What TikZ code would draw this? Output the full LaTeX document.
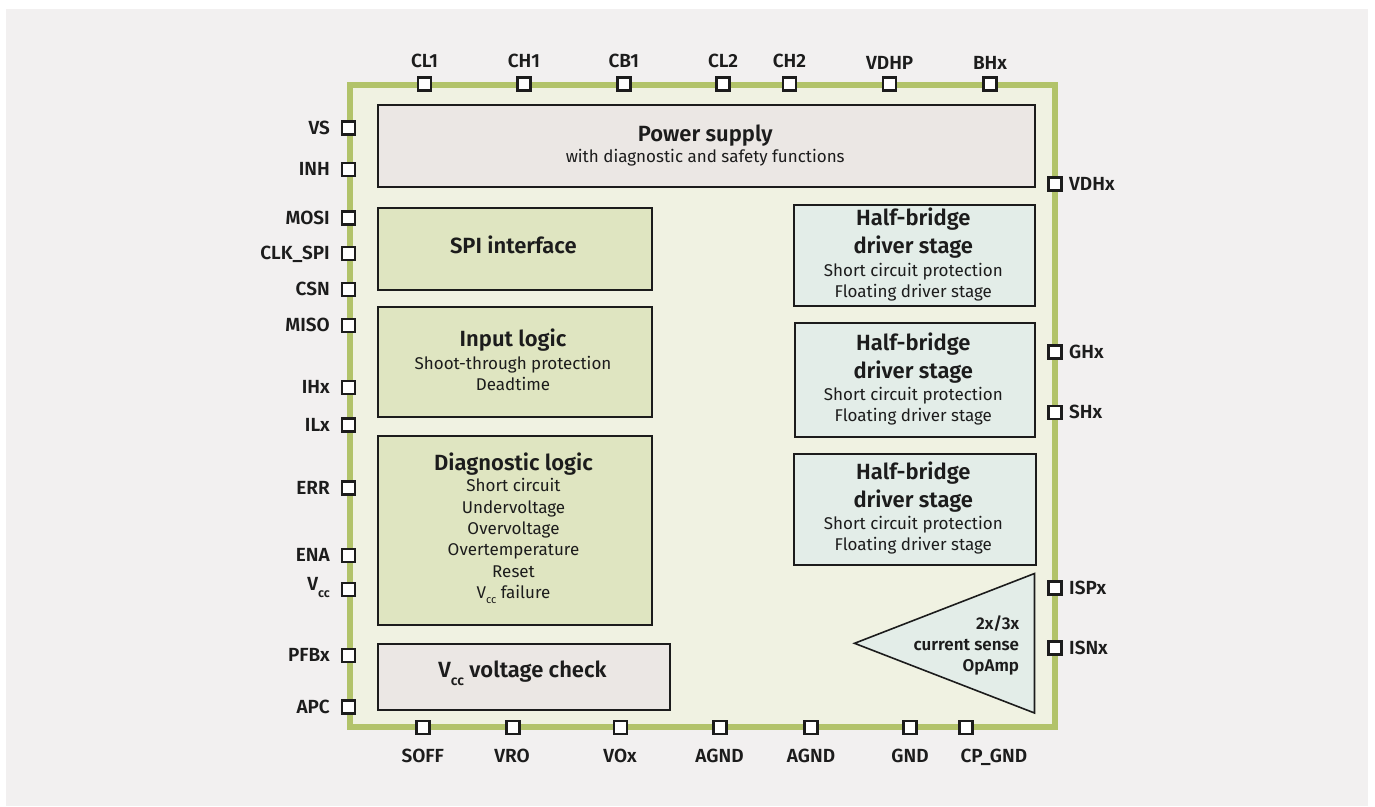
\documentclass[tikz,border=0pt]{standalone}
\usepackage{fontspec}
\setmainfont{Fira Sans}[BoldFont={Fira Sans SemiBold}]
\definecolor{bgc}{HTML}{F2F0F0}
\definecolor{chipc}{HTML}{F0F2E2}
\definecolor{framec}{HTML}{B2C36A}
\definecolor{psc}{HTML}{EBE7E4}
\definecolor{logc}{HTML}{DFE5C1}
\definecolor{hbc}{HTML}{E3EDE8}
\definecolor{txtc}{HTML}{1C1C1C}
\newcommand\fsz[1]{\fontsize{#1}{#1}\selectfont}
\newcommand\vsub[2]{V\raisebox{-#2}{\fsz{#1}cc}}
\tikzset{
  pinsq/.style={draw=txtc, fill=white, line width=2.4pt, minimum size=13pt, inner sep=0pt, outer sep=0pt},
  pinlbl/.style={font=\fsz{19}\bfseries, text=txtc, inner sep=0pt, anchor=base},
  lpin/.style={pinlbl, anchor=base east},
  rpin/.style={pinlbl, anchor=base west},
  blkbox/.style={draw=txtc, line width=2pt, inner sep=0pt, anchor=north west},
  ttl/.style={font=\fsz{22}\bfseries, text=txtc, inner sep=0pt, anchor=base},
  sub/.style={font=\fsz{17}, text=txtc, inner sep=0pt, anchor=base},
  tril/.style={font=\fsz{17}\bfseries, text=txtc, inner sep=0pt, anchor=base east}
}
\begin{document}
\begin{tikzpicture}[x=1pt,y=-1pt]
\useasboundingbox (0,0) rectangle (1375,806);
\fill[white] (0,0) rectangle (1375,806);
\fill[bgc] (6,9) rectangle (1368,806);
% chip frame
\draw[line width=6pt, draw=framec, fill=chipc] (349.5,84.5) rectangle (1054.5,726.5);

% blocks
\node[blkbox, fill=psc, minimum width=657.5pt, minimum height=82pt] (ps) at (376.5,104) {};
\node[blkbox, fill=logc, minimum width=274pt, minimum height=82pt] (spi) at (376.5,206.5) {};
\node[blkbox, fill=logc, minimum width=274.5pt, minimum height=110.5pt] (inp) at (376.5,305.5) {};
\node[blkbox, fill=logc, minimum width=274.5pt, minimum height=189pt] (diag) at (376.5,434.5) {};
\node[blkbox, fill=psc, minimum width=292pt, minimum height=66pt] (vcc) at (376.5,642.5) {};
\node[blkbox, fill=hbc, minimum width=241.5pt, minimum height=101.5pt] (hb1) at (792.5,203.5) {};
\node[blkbox, fill=hbc, minimum width=240.5pt, minimum height=114.5pt] (hb2) at (793.5,321.5) {};
\node[blkbox, fill=hbc, minimum width=242pt, minimum height=111pt] (hb3) at (792.5,452.5) {};
\draw[line width=1.6pt, draw=txtc, fill=hbc] (854.5,643.3) -- (1034.5,573.5) -- (1034.5,713) -- cycle;

% block texts
\node[ttl] (ps-t) at (705.2,141.7) {Power supply};
\node[sub] (ps-s) at (705.2,162.7) {with diagnostic and safety functions};
\node[ttl] (spi-t) at (513.3,253.3) {SPI interface};
\node[ttl] (inp-t) at (513,346.7) {Input logic};
\node[sub] (inp-s1) at (513,369.3) {Shoot-through protection};
\node[sub] (inp-s2) at (513,390) {Deadtime};
\node[ttl] (diag-t) at (513.5,470) {Diagnostic logic};
\node[sub] (diag-s1) at (513.5,491.5) {Short circuit};
\node[sub] (diag-s2) at (513.5,513) {Undervoltage};
\node[sub] (diag-s3) at (513.5,534.4) {Overvoltage};
\node[sub] (diag-s4) at (513.5,555.8) {Overtemperature};
\node[sub] (diag-s5) at (513.5,577.2) {Reset};
\node[sub] (diag-s6) at (513.5,598.4) {\vsub{11}{5pt} failure};
\node[ttl] (vcc-t) at (522.5,677.3) {\vsub{14}{8pt} voltage check};

\foreach \b/\c in {hb1/254.2, hb2/378.7, hb3/507.8}{
  \node[ttl] (\b-t1) at (913.3,\c-28.7) {Half-bridge};
  \node[ttl] (\b-t2) at (913.3,\c-0.7) {driver stage};
  \node[sub] (\b-s1) at (913.3,\c+22) {Short circuit protection};
  \node[sub] (\b-s2) at (913.3,\c+43) {Floating driver stage};
}
\node[tril] (op-1) at (1019.3,629.3) {2x/3x};
\node[tril] (op-2) at (1019.3,650.5) {current sense};
\node[tril] (op-3) at (1019.3,671.7) {OpAmp};

% top pins
\foreach \n/\x/\b in {CL1/424.5/67.3, CH1/524/67.3, CB1/623.8/67.3, CL2/723/67.3, CH2/789.5/67.3, VDHP/889.7/69.3, BHx/990/69.3}{
  \node[pinsq] (t-\n) at (\x,84) {};
  \node[pinlbl] (tl-\n) at (\x,\b) {\n};
}
% left pins
\foreach \n/\y in {VS/127.8, INH/169.5, MOSI/217.8, CLK/253.5, CSN/289.5, MISO/325.5, IHx/387.5, ILx/425, ERR/487.8, ENA/555.5, VCC/589.5, PFBx/655.5, APC/707}{
  \node[pinsq] (l-\n) at (348.7,\y) {};
}
\node[lpin] (ll-VS) at (330,134.1) {VS};
\node[lpin] (ll-INH) at (330,175.8) {INH};
\node[lpin] (ll-MOSI) at (330,224.1) {MOSI};
\node[lpin] (ll-CLK) at (330,259.8) {CLK\_SPI};
\node[lpin] (ll-CSN) at (330,295.8) {CSN};
\node[lpin] (ll-MISO) at (330,331.8) {MISO};
\node[lpin] (ll-IHx) at (330,393.8) {IHx};
\node[lpin] (ll-ILx) at (330,431.3) {ILx};
\node[lpin] (ll-ERR) at (330,494.1) {ERR};
\node[lpin] (ll-ENA) at (330,561.8) {ENA};
\node[lpin] (ll-VCC) at (330,590) {\vsub{12.5}{7pt}};
\node[lpin] (ll-PFBx) at (330,661.8) {PFBx};
\node[lpin] (ll-APC) at (330,713.3) {APC};
% right pins
\foreach \n/\y in {VDHx/183.8, GHx/352, SHx/412.5, ISPx/587.8, ISNx/648}{
  \node[pinsq] (r-\n) at (1054.8,\y) {};
  \node[rpin] (rl-\n) at (1069,\y+6.3) {\n};
}
% bottom pins
\foreach \n/\x/\lx/\t in {SOFF/422.8/422.8/SOFF, VRO/513/512/VRO, VOx/620.5/620/VOx, AGNDa/720/719.5/AGND, AGNDb/811/811/AGND, GND/910/910/GND, CPGND/966/993.8/CP\_GND}{
  \node[pinsq] (b-\n) at (\x,727.5) {};
  \node[pinlbl] (bl-\n) at (\lx,762.5) {\t};
}
\end{tikzpicture}
\end{document}
